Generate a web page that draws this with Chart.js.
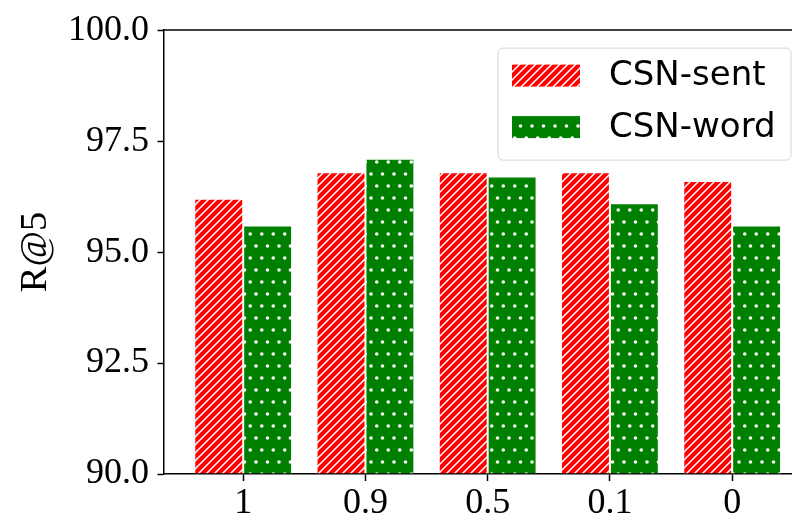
<!DOCTYPE html>
<html>
<head>
<meta charset="utf-8">
<script src="https://cdn.jsdelivr.net/npm/chart.js@4/dist/chart.umd.min.js"></script>
<style>
  html, body { margin: 0; padding: 0; overflow: hidden; background: #fff; }
  #caja { width: 812px; height: 517px; }
</style>
</head>
<body>
<div id="caja"><canvas id="grafico"></canvas></div>
<script>
// datos
const etiquetas = ["1", "0.9", "0.5", "0.1", "0"];
const csnSent = [96.2, 96.8, 96.8, 96.8, 96.6];
const csnWord = [95.6, 97.1, 96.7, 96.1, 95.6];
const marcasY = [90, 92.5, 95, 97.5, 100];

// tramas tipo matplotlib: "//" blanco sobre rojo y "." blanco sobre verde
function rayas() {
    const c = document.createElement("canvas");
    c.width = 8;
    c.height = 8;
    const g = c.getContext("2d");
    g.fillStyle = "#ff0000";
    g.fillRect(0, 0, 8, 8);
    g.strokeStyle = "#ffffff";
    g.lineWidth = 1.5;
    g.beginPath();
    g.moveTo(0, 8); g.lineTo(8, 0);
    g.moveTo(-4, 4); g.lineTo(4, -4);
    g.moveTo(4, 12); g.lineTo(12, 4);
    g.stroke();
    return g.createPattern(c, "repeat");
}
function puntos() {
    const c = document.createElement("canvas");
    c.width = 23;
    c.height = 24;
    const g = c.getContext("2d");
    g.fillStyle = "#008000";
    g.fillRect(0, 0, 23, 24);
    g.fillStyle = "#ffffff";
    [[3, 6], [14.5, 6], [8.75, 18], [20.25, 18]].forEach(([x, y]) => {
        g.beginPath();
        g.arc(x, y, 1.8, 0, Math.PI * 2);
        g.fill();
    });
    return g.createPattern(c, "repeat");
}

const tramaRoja = rayas();
const tramaVerde = puntos();

// linea superior del marco y leyenda con recuadro
const marco = {
    id: "marco",
    afterDraw(chart) {
        const { ctx, chartArea } = chart;
        ctx.save();
        ctx.strokeStyle = "#000";
        ctx.lineWidth = 1.5;
        ctx.beginPath();
        ctx.moveTo(chartArea.left - 0.75, chartArea.top);
        ctx.lineTo(chartArea.right, chartArea.top);
        ctx.stroke();

        // recuadro de la leyenda
        const lx = 498, ly = chartArea.top + 18, lw = 293, lh = 112;
        ctx.fillStyle = "rgba(255,255,255,0.8)";
        ctx.strokeStyle = "#d4d4d4";
        ctx.lineWidth = 1;
        ctx.beginPath();
        ctx.roundRect(lx, ly, lw, lh, 5);
        ctx.fill();
        ctx.stroke();

        ctx.font = "34px 'DejaVu Sans'";
        ctx.textBaseline = "middle";
        ctx.textAlign = "left";
        chart.data.datasets.forEach((ds, i) => {
            const cy = ly + 27.5 + i * 51.5;
            ctx.fillStyle = ds.backgroundColor;
            ctx.fillRect(lx + 14, cy - 11, 68, 22);
            ctx.fillStyle = "#000";
            ctx.fillText(ds.label, lx + 111, cy + 1);
        });
        ctx.restore();
    },
};

new Chart(document.getElementById("grafico"), {
    type: "bar",
    data: {
        datasets: [
            {
                label: "CSN-sent",
                data: csnSent.map((v, i) => ({ x: i, y: v })),
                backgroundColor: tramaRoja,
                borderColor: "#ffffff",
                borderWidth: 1,
                base: 90,
            },
            {
                label: "CSN-word",
                data: csnWord.map((v, i) => ({ x: i, y: v })),
                backgroundColor: tramaVerde,
                borderColor: "#ffffff",
                borderWidth: 1,
                base: 90,
            },
        ],
    },
    options: {
        responsive: true,
        maintainAspectRatio: false,
        animation: false,
        categoryPercentage: 0.8,
        barPercentage: 1.0,
        layout: { padding: { top: 25, right: 1, left: 0, bottom: 0 } },
        plugins: { legend: { display: false }, tooltip: { enabled: false } },
        scales: {
            x: {
                type: "linear",
                min: -0.652,
                max: 4.645,
                offset: false,
                afterBuildTicks: (scale) => {
                    scale.ticks = etiquetas.map((e, i) => ({ value: i }));
                },
                afterFit: (scale) => {
                    scale.height = 43;
                },
                ticks: {
                    callback: (v) => etiquetas[v],
                    color: "#000",
                    padding: 4.5,
                    maxRotation: 0,
                    font: { family: "'Liberation Serif'", size: 36, lineHeight: 1 },
                },
                grid: { offset: false, drawOnChartArea: false, tickLength: 7, tickColor: "#000", tickWidth: 1.5 },
                border: { display: true, color: "#000", width: 1.5 },
            },
            y: {
                min: 90,
                max: 100,
                afterBuildTicks: (scale) => {
                    scale.ticks = marcasY.map((v) => ({ value: v }));
                },
                afterFit: (scale) => {
                    scale.width = 163.5;
                },
                ticks: {
                    callback: (v) => v.toFixed(1),
                    color: "#000",
                    padding: 8.5,
                    font: { family: "'Liberation Serif'", size: 36, lineHeight: 1.2 },
                },
                grid: { drawOnChartArea: false, tickLength: 6, tickColor: "#000", tickWidth: 1.5 },
                border: { display: true, color: "#000", width: 1.5 },
                title: {
                    display: true,
                    text: "R@5",
                    color: "#000",
                    padding: { top: 12.5, bottom: 0 },
                    font: { family: "'Liberation Serif'", size: 38.5, lineHeight: 1.2 },
                },
            },
        },
    },
    plugins: [marco],
});
</script>
</body>
</html>
